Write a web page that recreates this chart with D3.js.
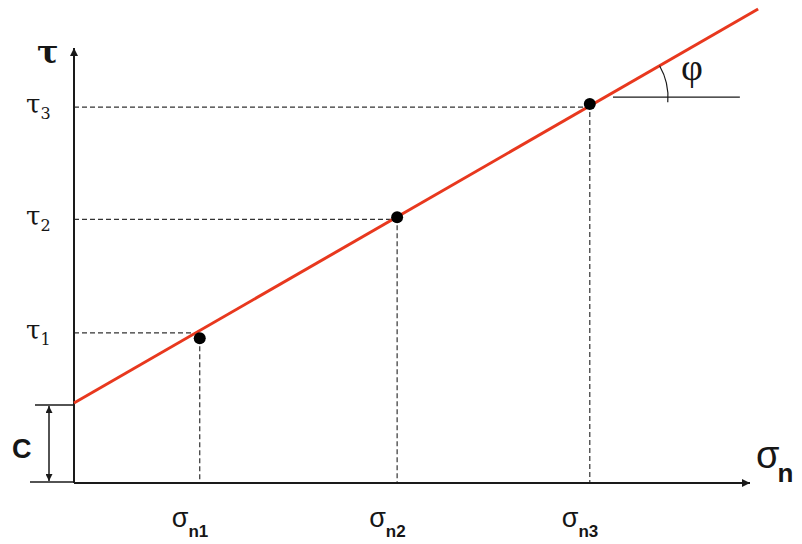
<!DOCTYPE html>
<html><head><meta charset="utf-8">
<script src="https://cdn.jsdelivr.net/npm/d3@7"></script>
<style>html,body{margin:0;padding:0;background:#fff}svg{display:block}</style>
</head><body>
<svg id="chart" width="802" height="544"></svg>
<script>
// Data (abstract units)
const sigmaLabels = ["1", "2", "3"];
const sigmaN = [1.86, 4.78, 7.63];
const tau = [3.33, 6.11, 8.71];
const tauGuide = [3.45, 6.06, 8.64];
const cohesion = 1.84;
const tanPhi = 0.895;
const lineEnd = 10.12;
const phiRefLevel = 8.87;
const phiRefEnd = 9.85;

const svg = d3.select("#chart");
const x = d3.scaleLinear().domain([0, 10]).range([74, 750]);
const y = d3.scaleLinear().domain([0, 10]).range([483, 48]);
const axisColor = "#1a1a1a";
const textColor = "#161616";

// defs: arrowheads
const defs = svg.append("defs");
defs.append("marker").attr("id", "arr").attr("viewBox", "0 0 10 10")
  .attr("refX", 10).attr("refY", 5).attr("markerWidth", 10).attr("markerHeight", 8)
  .attr("markerUnits", "userSpaceOnUse").attr("orient", "auto")
  .append("path").attr("d", "M0,0 L10,5 L0,10 Z").attr("fill", axisColor);
defs.append("marker").attr("id", "arrS").attr("viewBox", "0 0 10 10")
  .attr("refX", 10).attr("refY", 5).attr("markerWidth", 8).attr("markerHeight", 7)
  .attr("markerUnits", "userSpaceOnUse").attr("orient", "auto-start-reverse")
  .append("path").attr("d", "M0,0 L10,5 L0,10 Z").attr("fill", axisColor);

// guide dashes
const g = svg.append("g");
sigmaN.forEach((s, i) => {
  g.append("line").attr("x1", x(0)).attr("x2", x(s)).attr("y1", y(tauGuide[i])).attr("y2", y(tauGuide[i]))
    .attr("stroke", "#333").attr("stroke-width", 1.2).attr("stroke-dasharray", "5,3");
  g.append("line").attr("x1", x(s)).attr("x2", x(s)).attr("y1", y(tau[i])).attr("y2", y(0))
    .attr("stroke", "#333").attr("stroke-width", 1.2).attr("stroke-dasharray", "5,3");
});

// axes
svg.append("line").attr("x1", x(0)).attr("y1", y(0)).attr("x2", x(0)).attr("y2", y(10))
  .attr("stroke", axisColor).attr("stroke-width", 2).attr("marker-end", "url(#arr)");
svg.append("line").attr("x1", x(0)).attr("y1", y(0)).attr("x2", x(10)).attr("y2", y(0))
  .attr("stroke", axisColor).attr("stroke-width", 2).attr("marker-end", "url(#arr)");

// failure envelope
const lineData = [[0, cohesion], [lineEnd, cohesion + tanPhi * lineEnd]];
svg.append("path").datum(lineData)
  .attr("d", d3.line().x(d => x(d[0])).y(d => y(d[1])))
  .attr("stroke", "#e8381e").attr("stroke-width", 3).attr("fill", "none");

// points
svg.selectAll("circle.pt").data(sigmaN).join("circle").attr("class", "pt")
  .attr("cx", d => x(d)).attr("cy", (d, i) => y(tau[i])).attr("r", 6).attr("fill", "#000");

// phi reference line & arc
const sIntersect = (phiRefLevel - cohesion) / tanPhi;
const cx0 = x(sIntersect), cy0 = y(phiRefLevel);
svg.append("line").attr("x1", cx0 + 8).attr("x2", x(phiRefEnd)).attr("y1", cy0).attr("y2", cy0)
  .attr("stroke", axisColor).attr("stroke-width", 1.2);
const angPx = Math.atan2(y(cohesion) - y(cohesion + tanPhi), x(1) - x(0));
const R = 63;
const arc = d3.arc().innerRadius(R).outerRadius(R)
  .startAngle(Math.PI / 2 - angPx).endAngle(Math.PI / 2 + 0.08);
svg.append("path").attr("d", arc()).attr("transform", `translate(${cx0},${cy0})`)
  .attr("stroke", axisColor).attr("stroke-width", 1.2).attr("fill", "none");
svg.append("text").attr("x", 681).attr("y", 80).attr("font-family", "Liberation Serif, serif")
  .attr("font-size", 38).attr("fill", textColor).text("φ");

// cohesion bracket
svg.append("line").attr("x1", 35).attr("x2", x(0)).attr("y1", y(cohesion) + 2).attr("y2", y(cohesion) + 2)
  .attr("stroke", axisColor).attr("stroke-width", 1.5);
svg.append("line").attr("x1", 30).attr("x2", x(0)).attr("y1", y(0) - 1).attr("y2", y(0) - 1)
  .attr("stroke", axisColor).attr("stroke-width", 1.5);
svg.append("line").attr("x1", 49).attr("x2", 49).attr("y1", y(cohesion) + 3).attr("y2", y(0) - 2)
  .attr("stroke", axisColor).attr("stroke-width", 1.5)
  .attr("marker-start", "url(#arrS)").attr("marker-end", "url(#arrS)");
svg.append("text").attr("x", 12).attr("y", 458).attr("font-family", "Liberation Sans, Arial, sans-serif")
  .attr("font-size", 27).attr("font-weight", "bold").attr("fill", textColor).text("C");

// axis titles
svg.append("text").attr("x", 37).attr("y", 63).attr("font-family", "DejaVu Serif, serif")
  .attr("font-weight", "bold").attr("font-size", 32).attr("fill", textColor).text("τ");
const sn = svg.append("text").attr("x", 756).attr("y", 468).attr("font-family", "Liberation Sans, Arial, sans-serif")
  .attr("fill", textColor);
sn.append("tspan").attr("font-size", 38).text("σ");
sn.append("tspan").attr("font-size", 26).attr("font-weight", "bold").attr("dx", -2).attr("dy", 14).text("n");

// tau labels
tauGuide.forEach((t, i) => {
  const tx = svg.append("text").attr("x", 26).attr("y", y(t) + 6)
    .attr("font-family", "DejaVu Serif, serif").attr("fill", textColor);
  tx.append("tspan").attr("font-size", 26).text("τ");
  tx.append("tspan").attr("font-size", 16).attr("dy", 6).attr("dx", 0).text(sigmaLabels[i]);
});

// sigma labels
sigmaN.forEach((s, i) => {
  const tx = svg.append("text").attr("x", x(s) - 28).attr("y", 527)
    .attr("font-family", "Liberation Sans, Arial, sans-serif").attr("fill", textColor);
  tx.append("tspan").attr("font-size", 27).text("σ");
  tx.append("tspan").attr("font-size", 17).attr("font-weight", "bold").attr("dy", 10).text("n" + sigmaLabels[i]);
});
</script>
</body></html>
